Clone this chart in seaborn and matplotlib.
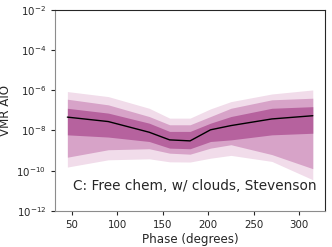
import numpy as np
import pandas as pd
import matplotlib
matplotlib.use("Agg")
import matplotlib.pyplot as plt
import seaborn as sns

# =========================
# Data (log10 VMR)
# =========================

phases = [45, 90, 135, 157.5, 180, 202.5, 225, 270, 315]
median = [-7.34, -7.56, -8.09, -8.47, -8.52, -7.97, -7.76, -7.43, -7.27]
inner_top = [-6.90, -7.14, -7.64, -8.05, -8.05, -7.64, -7.31, -6.90, -6.82]
inner_bot = [-8.22, -8.33, -8.55, -8.88, -8.91, -8.55, -8.47, -8.22, -8.14]
mid_top = [-6.45, -6.73, -7.31, -7.72, -7.72, -7.31, -6.90, -6.48, -6.40]
mid_bot = [-9.33, -8.96, -8.91, -9.13, -9.18, -8.88, -8.71, -9.20, -9.90]
outer_top = [-6.07, -6.32, -6.90, -7.39, -7.39, -6.93, -6.57, -6.19, -5.99]
outer_bot = [-9.82, -9.46, -9.41, -9.56, -9.57, -9.38, -9.24, -9.54, -10.45]

df = pd.DataFrame({"phase": phases, "vmr": 10.0 ** np.array(median)})

# =========================
# Plot
# =========================

sns.set_style("ticks")
plt.rcParams["font.family"] = ["DejaVu Sans"]

fig = plt.figure(figsize=(3.32, 2.47), dpi=100)
ax = fig.add_axes([0.166, 0.146, 0.813, 0.815])

bands = [
    (outer_bot, outer_top, "#f1dcea"),
    (mid_bot, mid_top, "#d7a3c8"),
    (inner_bot, inner_top, "#b6629e"),
]
for lo, hi, col in bands:
    ax.fill_between(phases, 10.0 ** np.array(lo), 10.0 ** np.array(hi),
                    color=col, linewidth=0)

sns.lineplot(x="phase", y="vmr", data=df, color="black", linewidth=1, ax=ax)

ax.set_yscale("log")
ax.set_ylim(1e-12, 1e-2)
ax.set_yticks([1e-12, 1e-10, 1e-8, 1e-6, 1e-4, 1e-2])
ax.minorticks_off()
ax.set_xticks([50, 100, 150, 200, 250, 300])

ax.text(0.067, 0.124, "C: Free chem, w/ clouds, Stevenson",
        transform=ax.transAxes, fontsize=9.8, va="center", ha="left")

ax.set_xlabel("Phase (degrees)", fontsize=8.6, labelpad=2)
ax.set_ylabel("VMR AlO", fontsize=8.6, labelpad=3)
ax.tick_params(labelsize=7.4, length=3)
ax.spines["left"].set_color("0.55")
ax.spines["bottom"].set_color("0.55")

fig.savefig("out.png", dpi=100)
